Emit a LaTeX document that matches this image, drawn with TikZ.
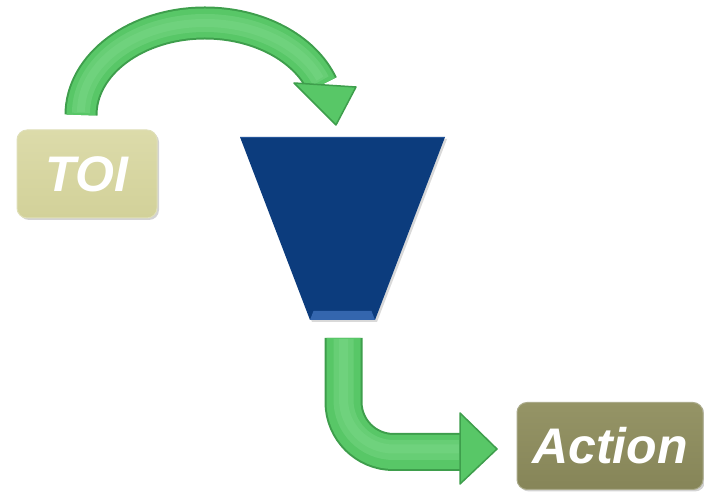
\documentclass[tikz,border=0pt]{standalone}
\usepackage{fontspec}
\setmainfont{Liberation Sans}
\usetikzlibrary{shadows,calc}
\definecolor{toifill}{HTML}{D2D199}
\definecolor{toitop}{HTML}{DCDBAA}
\definecolor{actfill}{HTML}{868558}
\definecolor{acttop}{HTML}{959466}
\definecolor{grnedge}{HTML}{3E9E4C}
\definecolor{grnmid}{HTML}{58C767}
\definecolor{grnlight}{HTML}{7AD787}
\definecolor{funnelblue}{HTML}{0C3C7D}
\definecolor{funnellight}{HTML}{3466AE}
\tikzset{
  labelbox/.style={rounded corners=10pt, draw=#1!70!white, line width=1pt,
    drop shadow={opacity=0.35, shadow xshift=2pt, shadow yshift=-2pt},
    text=white, font=\fontsize{50}{60}\selectfont\bfseries\itshape, inner sep=0pt},
  shaftedge/.style={draw=grnedge, line width=#1},
  shaftfill/.style={draw=grnmid, line width=#1},
  shaftglow/.style={draw=grnlight, line width=#1, opacity=0.45},
  headstyle/.style={fill=grnmid, draw=grnedge, line width=1.5pt, line join=round}
}
\begin{document}
\begin{tikzpicture}[x=1pt,y=1pt]
\useasboundingbox (0,0) rectangle (704,492);
% boxes
\node[labelbox=toifill, top color=toitop, bottom color=toifill, minimum width=140pt, minimum height=88pt] (toi) at (87,318) {TOI};
\node[labelbox=actfill, top color=acttop, bottom color=actfill, minimum width=186pt, minimum height=87pt] (act) at (610,46) {Action};
% funnel
\coordinate (ftl) at (240,355);
\coordinate (ftr) at (445,355);
\coordinate (fbr) at (375,172);
\coordinate (fbl) at (310,172);
\fill[funnelblue, drop shadow={opacity=0.3, shadow xshift=2pt, shadow yshift=-2pt}] (ftl) -- (ftr) -- (fbr) -- (fbl) -- cycle;
\fill[funnellight] (313.5,181) -- (371.5,181) -- (fbr) -- (fbl) -- cycle;
\draw[funnellight!60!funnelblue, line width=0.8pt] (ftl) -- (ftr);
\coordinate (funneltop) at (336,367);
\coordinate (funnelbottom) at (343.5,154);
% top arrow
\coordinate (a1start) at (81,377);
\draw[shaftedge=33pt] (a1start) arc[start angle=180, end angle=19.3, x radius=124, y radius=92];
\draw[shaftfill=29pt] (a1start) arc[start angle=180, end angle=19.3, x radius=124, y radius=92];
\draw[shaftglow=18pt] ($(a1start)+(0,2)$) arc[start angle=180, end angle=21, x radius=124, y radius=90];
\draw[shaftglow=8pt] ($(a1start)+(0,3)$) arc[start angle=180, end angle=22, x radius=124, y radius=89];
\filldraw[headstyle] (294,409) -- (356,405) -- (funneltop) -- cycle;
% bottom arrow
\coordinate (a2turn) at (343.5,40);
\coordinate (a2end) at (461,40);
\draw[shaftedge=38pt, rounded corners=50pt] (funnelbottom) -- (a2turn) -- (a2end);
\draw[shaftfill=34pt, rounded corners=50pt] (funnelbottom) -- (a2turn) -- (a2end);
\draw[shaftglow=20pt, rounded corners=50pt] ($(funnelbottom)+(0,-1)$) -- (343.5,42) -- (459,42);
\draw[shaftglow=9pt, rounded corners=50pt] ($(funnelbottom)+(0,-1)$) -- (343.5,43) -- (459,43);
\filldraw[headstyle] (460,79) -- (497,43) -- (460,8) -- cycle;
\end{tikzpicture}
\end{document}
